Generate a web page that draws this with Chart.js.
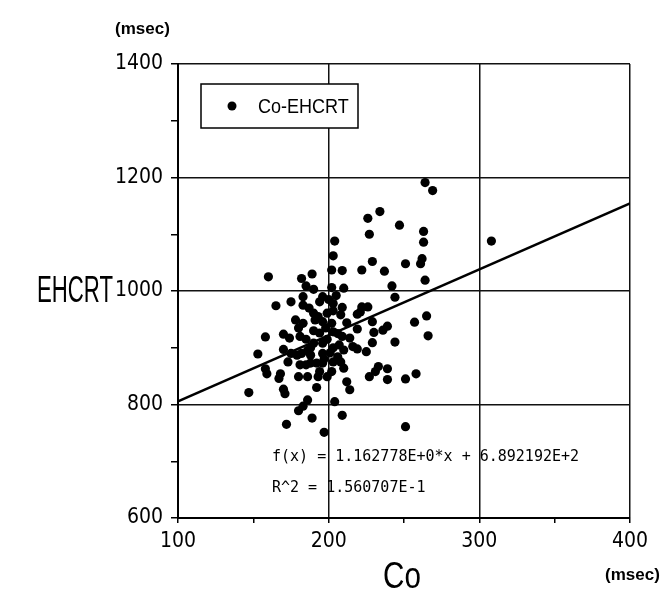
<!DOCTYPE html>
<html>
<head>
<meta charset="utf-8">
<script src="https://cdn.jsdelivr.net/npm/chart.js@4"></script>
<style>
html,body{margin:0;padding:0;background:#fff;}
#wrap{position:relative;width:668px;height:597px;}
</style>
</head>
<body>
<div id="wrap"><canvas id="c" width="668" height="597"></canvas></div>
<script>
// Co (msec) values
const coX = [264,269,226,234,247,227,263,263,308,204,203,262,261,251,229,237,222,209,202,189,182,264,242,244,185,190,202,210,183,194,203,209,222,226,160,165,175,183,187,221,219,265,257,266,244,239,236,230,229,212,219,229,216,219,225,209,214,203,194,191,196,190,199,203,208,183,178,180,202,158,170,174,181,185,190,196,182,188,196,201,206,208,210,185,192,194,199,186,193,233,231,227,239,239,251,258,212,214,192,153,170,175,173,179,181,188,158,159,168,167,180,202,196,203,210,203,147,170,171,186,183,180,189,172,204,209,251,197,196,205,198,207,190,188,199,193,200,206,197,186];
// EHCRT (msec) values
const ehcrt = [1191,1177,1128,1140,1116,1100,1105,1086,1088,1088,1062,1057,1048,1048,1052,1035,1037,1036,1037,1030,1022,1019,1009,989,1009,1003,1006,1005,990,981,978,971,972,972,1025,974,981,975,970,963,959,956,945,921,910,938,931,927,946,944,933,909,902,898,893,920,917,928,926,949,946,961,961,965,958,943,949,935,943,919,924,917,920,915,908,908,890,887,890,891,884,875,864,870,873,858,849,849,849,867,858,849,863,844,845,854,840,826,830,889,897,890,875,887,870,873,863,854,854,846,849,858,873,875,896,900,821,827,819,808,797,789,776,765,805,781,761,751,990,992,935,905,930,900,915,955,985,925,880,895];
// Regression: f(x) = slope*x + intercept
const slope = 1.162778;
const intercept = 689.2192;
const xRange = [100, 400];
const yRange = [600, 1400];
const seriesName = 'Co-EHCRT';
const yTitle = 'EHCRT';
const xTitle = 'Co';
const unitText = '(msec)';
const fitText = 'f(x) = 1.162778E+0*x + 6.892192E+2';
const r2Text = 'R^2 = 1.560707E-1';

const pts = coX.map((x, i) => ({x: x, y: ehcrt[i]}));
const fitPts = xRange.map(x => ({x: x, y: slope * x + intercept}));

const COND = '"DejaVu Sans Condensed", "Liberation Sans Narrow", "Liberation Sans", sans-serif';
const SANS = '"Liberation Sans", Arial, sans-serif';

// draw text horizontally condensed (real canvas text)
function condText(ctx, text, x, y, sx, align) {
  ctx.save();
  ctx.translate(x, y);
  ctx.scale(sx, 1);
  ctx.textAlign = align;
  ctx.fillText(text, 0, 0);
  ctx.restore();
}

const extras = {
  id: 'extras',
  afterDatasetsDraw(chart) {
    const ctx = chart.ctx;
    const xs = chart.scales.x, ys = chart.scales.y;
    ctx.save();
    // legend box
    ctx.fillStyle = '#fff';
    ctx.fillRect(201, 84, 157, 44);
    ctx.strokeStyle = '#000';
    ctx.lineWidth = 1.5;
    ctx.strokeRect(201, 84, 157, 44);
    ctx.fillStyle = '#000';
    ctx.beginPath();
    ctx.arc(232, 106, 4.5, 0, Math.PI * 2);
    ctx.fill();
    ctx.font = '20px ' + SANS;
    ctx.textBaseline = 'middle';
    condText(ctx, seriesName, 258, 107, 0.9, 'left');
    // fit text
    ctx.font = '15px "DejaVu Sans Mono", monospace';
    ctx.textBaseline = 'alphabetic';
    ctx.textAlign = 'left';
    ctx.fillText(fitText, 272, 461);
    ctx.fillText(r2Text, 272, 492);
    // axis titles
    ctx.font = '37px ' + SANS;
    ctx.textBaseline = 'middle';
    condText(ctx, yTitle, 113, ys.getPixelForValue(1000) + 1, 0.6, 'right');
    condText(ctx, xTitle, (xs.left + xs.right) / 2 - 2, 578, 0.8, 'center');
    // units
    ctx.font = 'bold 17px ' + SANS;
    condText(ctx, unitText, 115, 29, 1.0, 'left');
    condText(ctx, unitText, 605, 575, 1.0, 'left');
    ctx.restore();
  }
};

const isMajorX = v => v % 100 === 0;
const isMajorY = v => v % 200 === 0;

new Chart(document.getElementById('c'), {
  data: {
    datasets: [
      {
        type: 'scatter',
        label: seriesName,
        data: pts,
        pointRadius: 4.6,
        pointBackgroundColor: '#000',
        pointBorderWidth: 0,
        borderColor: '#000'
      },
      {
        type: 'line',
        label: 'fit',
        data: fitPts,
        borderColor: '#000',
        borderWidth: 2.5,
        pointRadius: 0,
        fill: false
      }
    ]
  },
  options: {
    responsive: false,
    animation: false,
    layout: {padding: {left: 0, right: 38, top: 64, bottom: 0}},
    plugins: {legend: {display: false}, tooltip: {enabled: false}},
    scales: {
      x: {
        type: 'linear',
        min: xRange[0], max: xRange[1],
        afterFit: s => { s.height = 79; },
        border: {color: '#000', width: 2},
        grid: {
          color: c => isMajorX(c.tick.value) ? '#111' : 'rgba(0,0,0,0)',
          tickColor: '#000',
          lineWidth: 1.5,
          tickLength: 5
        },
        ticks: {
          stepSize: 50,
          color: '#000',
          padding: 6,
          maxRotation: 0,
          autoSkip: false,
          font: {family: COND, size: 21},
          callback: v => isMajorX(v) ? String(v) : ''
        }
      },
      y: {
        type: 'linear',
        min: yRange[0], max: yRange[1],
        afterFit: s => { s.width = 178; },
        border: {color: '#000', width: 2},
        grid: {
          color: c => isMajorY(c.tick.value) ? '#111' : 'rgba(0,0,0,0)',
          tickColor: '#000',
          lineWidth: 1.5,
          tickLength: 7
        },
        ticks: {
          stepSize: 100,
          color: '#000',
          padding: 8,
          autoSkip: false,
          font: {family: COND, size: 21},
          callback: v => isMajorY(v) ? String(v) : ''
        }
      }
    }
  },
  plugins: [extras]
});
</script>
</body>
</html>
